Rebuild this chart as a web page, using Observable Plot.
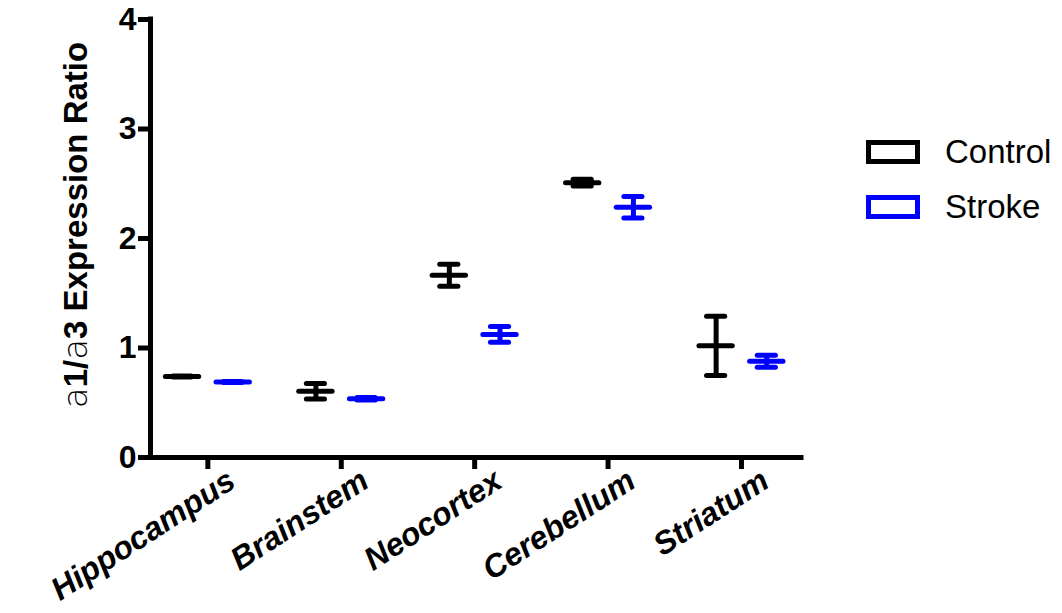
<!DOCTYPE html>
<html>
<head>
<meta charset="utf-8">
<script src="https://cdn.jsdelivr.net/npm/d3@7"></script>
<script src="https://cdn.jsdelivr.net/npm/@observablehq/plot@0.6"></script>
<style>
  body { margin: 0; background: #fff; }
  #chart { position: relative; width: 1062px; height: 613px; font-family: "Liberation Sans", Arial, sans-serif; }
  #chart svg { position: absolute; left: 0; top: 0; }
  .legend { position: absolute; left: 866px; top: 124px; }
  .item { display: flex; align-items: center; height: 55px; font-size: 33px; color: #000; }
  .swatch { box-sizing: border-box; width: 54px; height: 24px; border: 5px solid; margin-right: 25px; background: #fff; }
</style>
</head>
<body>
<div id="chart"></div>
<script>
// Brain regions along the x axis
const regions = ["Hippocampus", "Brainstem", "Neocortex", "Cerebellum", "Striatum"];
const groups = ["Control", "Stroke"];
const groupColors = ["#000000", "#0000ff"];

// Mean ± SEM of the a1/a3 expression ratio per region
const controlMean = [0.74, 0.605, 1.665, 2.51, 1.02];
const controlSem  = [0.004, 0.07, 0.10, 0.03, 0.27];
const strokeMean  = [0.69, 0.536, 1.124, 2.286, 0.879];
const strokeSem   = [0.004, 0.012, 0.072, 0.098, 0.055];

const yTicks = [0, 1, 2, 3, 4];

// Long table: one row per region × group
const series = {Control: [controlMean, controlSem], Stroke: [strokeMean, strokeSem]};
const rows = [];
for (const g of groups) {
  const [m, s] = series[g];
  regions.forEach((r, i) => rows.push({region: r, index: i, group: g, mean: m[i], lo: m[i] - s[i], hi: m[i] + s[i]}));
}

// Side-by-side placement of the two groups inside each region, and bar widths (x units)
const groupShift = {Control: -0.19, Stroke: 0.19};
const meanHalf = 0.125;
const capHalf = 0.068;
const xc = d => d.index + groupShift[d.group];

const xDomain = [-0.43, 4.45];
const xTicks = d3.range(regions.length);

const plot = Plot.plot({
  width: 1062,
  height: 613,
  marginLeft: 150,
  marginRight: 261,
  marginTop: 19,
  marginBottom: 156,
  style: {fontFamily: "'Liberation Sans', Arial, sans-serif", background: "transparent", color: "#000"},
  x: {type: "linear", domain: xDomain},
  y: {domain: [0, 4]},
  color: {domain: groups, range: groupColors},
  marks: [
    // axis lines
    Plot.ruleY([0], {stroke: "#000", strokeWidth: 5, strokeLinecap: "square"}),
    Plot.ruleX([xDomain[0]], {stroke: "#000", strokeWidth: 5, strokeLinecap: "square"}),
    Plot.axisY({ticks: yTicks, tickFormat: d3.format("d"), tickSize: 12, tickPadding: 2, fontSize: 32, fontWeight: "bold", label: null}),
    // x ticks (no text)
    Plot.axisX({ticks: xTicks, tickFormat: () => "", tickSize: 12, label: null}),
    // rotated region names
    Plot.axisX({
      ticks: xTicks,
      tickFormat: i => regions[i],
      tickSize: 0,
      tickPadding: 16,
      tickRotate: -33,
      fontSize: 32,
      fontWeight: "bold",
      fontStyle: "italic",
      dx: 24,
      dy: 4,
      label: null
    }),
    // SEM whiskers
    Plot.ruleX(rows, {x: xc, y1: "lo", y2: "hi", stroke: "group", strokeWidth: 5}),
    // caps
    Plot.ruleY(rows, {y: "hi", x1: d => xc(d) - capHalf, x2: d => xc(d) + capHalf, stroke: "group", strokeWidth: 5, strokeLinecap: "round"}),
    Plot.ruleY(rows, {y: "lo", x1: d => xc(d) - capHalf, x2: d => xc(d) + capHalf, stroke: "group", strokeWidth: 5, strokeLinecap: "round"}),
    // means
    Plot.ruleY(rows, {y: "mean", x1: d => xc(d) - meanHalf, x2: d => xc(d) + meanHalf, stroke: "group", strokeWidth: 5, strokeLinecap: "round"})
  ]
});

// heavy tick strokes on both axes
d3.select(plot).selectAll('g[aria-label="x-axis tick"], g[aria-label="y-axis tick"]')
  .attr("stroke-width", 5)
  .selectAll("path, line").attr("stroke-width", 5);

// y-axis title with light-weight alpha glyphs
const title = d3.select(plot).append("text")
  .attr("transform", "translate(87,225) rotate(-90)")
  .attr("text-anchor", "middle")
  .attr("fill", "#000")
  .style("font-size", "33px")
  .style("font-family", "'Liberation Sans', Arial, sans-serif")
  .style("font-weight", "bold");
const parts = [["a", true], ["1/", false], ["a", true], ["3 Expression Ratio", false]];
for (const [t, light] of parts) {
  const ts = title.append("tspan").text(t);
  if (light) ts.style("font-weight", "200").style("font-family", "'DejaVu Sans', Roboto, sans-serif").style("font-size", "34px");
}

const chart = document.getElementById("chart");
chart.appendChild(plot);

// legend
const legend = document.createElement("div");
legend.className = "legend";
groups.forEach((g, i) => {
  const item = document.createElement("div");
  item.className = "item";
  const sw = document.createElement("div");
  sw.className = "swatch";
  sw.style.borderColor = groupColors[i];
  const label = document.createElement("span");
  label.textContent = g;
  item.appendChild(sw);
  item.appendChild(label);
  legend.appendChild(item);
});
chart.appendChild(legend);
</script>
</body>
</html>
